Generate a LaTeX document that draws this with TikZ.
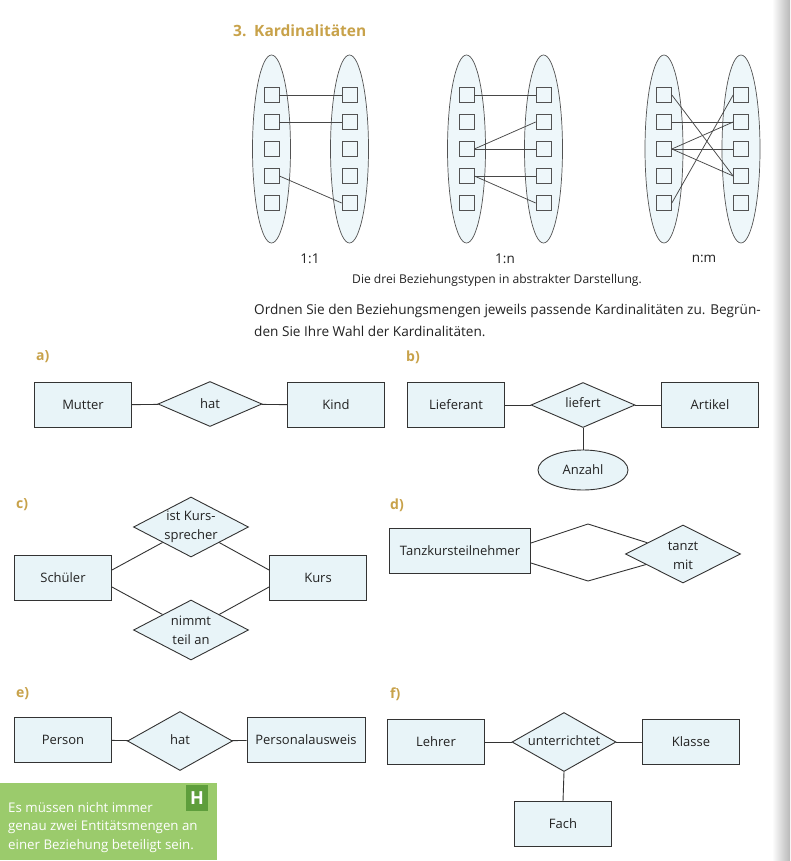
\documentclass[tikz,border=0pt]{standalone}
\usepackage{fontspec}
\setmainfont{Open Sans}
\usetikzlibrary{shapes.geometric,calc}
\definecolor{boxfill}{HTML}{E8F4F8}
\definecolor{setfill}{HTML}{EEF7FA}
\definecolor{gold}{HTML}{C8A24A}
\definecolor{hgreen}{HTML}{9BCB6C}
\definecolor{hdark}{HTML}{5E9E3C}
\definecolor{lc}{HTML}{333333}
\definecolor{tc}{HTML}{222222}
\begin{document}
\begin{tikzpicture}[x=1pt,y=-1pt,
 every node/.style={font=\fontsize{13}{15}\selectfont, text=tc},
 ent/.style={draw=lc, line width=0.9pt, fill=boxfill, rectangle, minimum width=97pt, minimum height=45pt, inner sep=0pt},
 rel/.style={draw=lc, line width=0.9pt, fill=boxfill, diamond, minimum width=104pt, minimum height=45pt, inner sep=0pt},
 attr/.style={draw=lc, line width=0.9pt, fill=boxfill, ellipse, minimum width=90pt, minimum height=40pt, inner sep=0pt},
 setell/.style={draw=lc!85, line width=0.7pt, fill=setfill, ellipse, minimum width=38pt, minimum height=188pt, inner sep=0pt},
 sq/.style={draw=lc!85, line width=0.7pt, fill=setfill, rectangle, minimum size=15pt, inner sep=0pt},
 conn/.style={draw=lc, line width=0.9pt},
 thinl/.style={draw=lc!90, line width=0.75pt},
 lbl/.style={text=gold, font=\fontsize{14}{16}\selectfont\bfseries, anchor=west, inner sep=0pt},
 txt/.style={anchor=west, inner sep=0pt},
 reltxt/.style={align=center, inner sep=0pt, font=\fontsize{13}{19}\selectfont},
 htxt/.style={anchor=west, inner sep=0pt, text=white, font=\fontsize{13.3}{15}\selectfont},
]
\fill[white] (0,0) rectangle (790,861);
\useasboundingbox (0,0) rectangle (790,861);
\shade[left color=white, right color=black!28] (772,0) rectangle (790,861);

% title
\node[lbl, font=\fontsize{15.5}{18}\selectfont\bfseries] (title) at (233,31) {3.\enspace Kardinalitäten};

% abstract diagrams
\foreach \d/\lx/\rx in {A/271.5/349.5, B/466.5/543.5, C/664/741} {
  \node[setell] (\d L) at (\lx,149) {};
  \node[setell] (\d R) at (\rx,149) {};
  \foreach \i/\yy in {1/95,2/122,3/149,4/176,5/203} {
    \node[sq] (\d l\i) at (\lx,\yy) {};
    \node[sq] (\d r\i) at (\rx,\yy) {};
  }
}
\foreach \a/\b in {Al1/Ar1, Al2/Ar2, Al4/Ar5, Bl1/Br1, Bl3/Br2, Bl3/Br3, Bl4/Br4, Bl4/Br5, Cl1/Cr4, Cl2/Cr2, Cl3/Cr2, Cl3/Cr3, Cl3/Cr4, Cl5/Cr1}
  \draw[thinl] (\a.east) -- (\b.west);

\node[font=\fontsize{13.5}{16}\selectfont] (t11) at (310,259) {1:1};
\node[font=\fontsize{13.5}{16}\selectfont] (t1n) at (505,259) {1:n};
\node[font=\fontsize{13.5}{16}\selectfont] (tnm) at (704,259) {n:m};
\node[font=\fontsize{12.1}{14}\selectfont] (cap) at (497,280) {Die drei Beziehungstypen in abstrakter Darstellung.};
\node[txt, font=\fontsize{13.6}{16}\selectfont] (p1) at (254,311) {Ordnen Sie den Beziehungsmengen jeweils passende Kardinalitäten zu. Begrün-};
\node[txt, font=\fontsize{13.6}{16}\selectfont] (p2) at (254,331) {den Sie Ihre Wahl der Kardinalitäten.};

% a)
\node[lbl] (la) at (36,357) {a)};
\node[ent] (mutter) at (83,405) {Mutter};
\node[rel] (hat1) at (210,404) {};
\node (hat1t) at (hat1) {hat};
\node[ent] (kind) at (336,405) {Kind};
\draw[conn] (mutter) -- (hat1);
\draw[conn] (hat1) -- (kind);

% b)
\node[lbl] (lb) at (406,357) {b)};
\node[ent] (lief) at (456,405) {Lieferant};
\node[rel] (liefert) at (583,405) {};
\node (liefertt) at (583,403) {liefert};
\node[ent] (artikel) at (710,405) {Artikel};
\node[attr] (anzahl) at (583,470) {Anzahl};
\draw[conn] (lief) -- (liefert);
\draw[conn] (liefert) -- (artikel);
\draw[conn] (liefert.south) -- (anzahl.north);

% c)
\node[lbl] (lc) at (16,505) {c)};
\node[rel, minimum width=115pt, minimum height=60pt] (ks) at (191,527) {};
\node[rel, minimum width=115pt, minimum height=60pt] (nt) at (191,630) {};
\node[ent] (schueler) at (63,578) {Schüler};
\node[ent] (kurs) at (318,578) {Kurs};
\draw[conn] ($(schueler.east)+(0,-8)$) -- (ks);
\draw[conn] ($(kurs.west)+(0,-8)$) -- (ks);
\draw[conn] ($(schueler.east)+(0,9)$) -- (nt);
\draw[conn] ($(kurs.west)+(0,9)$) -- (nt);
\node[reltxt] (kst) at (191,527) {ist Kurs-\\sprecher};
\node[reltxt] (ntt) at (191,630) {nimmt\\teil an};

% d)
\node[lbl] (ld) at (390,505) {d)};
\node[ent, minimum width=141pt] (tanz) at (460,551) {Tanzkursteilnehmer};
\node[rel, minimum width=115pt, minimum height=58pt] (tm) at (683,554) {};
\coordinate (dtop) at (588,524);
\coordinate (dbot) at (588,581);
\draw[conn] (tanz.east |- 0,543) -- (dtop) -- (tm);
\draw[conn] (tanz.east |- 0,563) -- (dbot) -- (tm);
\node[reltxt] (tmt) at (683,556) {tanzt\\mit};

% e)
\node[lbl] (le) at (16,694) {e)};
\node[ent] (person) at (63,740) {Person};
\node[rel, minimum width=105pt, minimum height=59pt] (hat2) at (180,741) {};
\node (hat2t) at (180,740) {hat};
\node[ent, minimum width=118pt] (pa) at (306,740) {Personalausweis};
\draw[conn] (person) -- (hat2);
\draw[conn] (hat2) -- (pa);

% f)
\node[lbl] (lf) at (390,694) {f)};
\node[ent] (lehrer) at (436,742) {Lehrer};
\node[rel, minimum width=104pt, minimum height=59pt] (unt) at (564,742) {};
\node (untt) at (564,741) {unterrichtet};
\node[ent] (klasse) at (691,742) {Klasse};
\node[ent] (fach) at (563,824) {Fach};
\draw[conn] (lehrer) -- (unt);
\draw[conn] (unt) -- (klasse);
\draw[conn] (unt.south) -- (fach.north);

% hint box
\fill[hgreen] (0,783) rectangle (217,860);
\node[fill=hdark, minimum width=22pt, minimum height=26pt, inner sep=0pt, text=white, font=\fontsize{18}{18}\selectfont\bfseries] (hbox) at (197,798) {H};
\node[htxt] (h1) at (8,808) {Es müssen nicht immer};
\node[htxt] (h2) at (8,827) {genau zwei Entitätsmengen an};
\node[htxt] (h3) at (8,846) {einer Beziehung beteiligt sein.};
\end{tikzpicture}
\end{document}
